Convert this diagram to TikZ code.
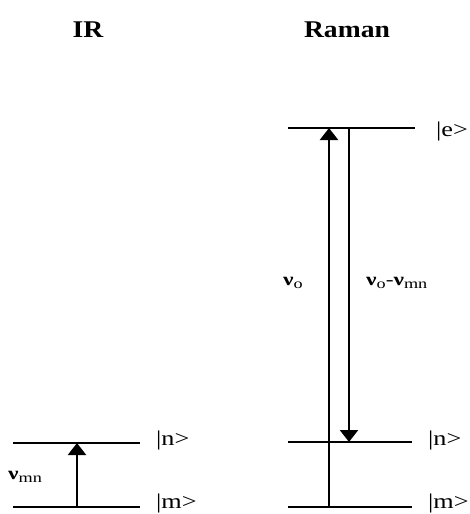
\documentclass[tikz,border=0pt]{standalone}
\usepackage{fontspec}
\setmainfont{Liberation Serif}
\usepackage{graphicx}
\usepackage{tikz}
\usetikzlibrary{arrows.meta, positioning}

% stretched text and frequency labels
\newcommand{\wtext}[2]{\scalebox{#1}[1]{#2}}
\newcommand{\nulab}[1]{\textbf{ν}\raisebox{-3pt}{\fontsize{14}{14}\selectfont #1}}

\begin{document}
\begin{tikzpicture}[x=1pt, y=-1pt,
  level/.style={line width=2.2pt},
  trans/.style={line width=2.2pt, -{Triangle[width=18pt, length=12pt]}},
  ket/.style={anchor=west, inner sep=0pt, font=\fontsize{21}{21}\selectfont},
  freq/.style={anchor=west, inner sep=0pt, font=\fontsize{18}{18}\selectfont},
  title/.style={font=\fontsize{24}{24}\selectfont\bfseries}
]
\useasboundingbox (0,0) rectangle (470,514);

% IR
\coordinate (irnl) at (13,443);  \coordinate (irnr) at (140,443);
\coordinate (irml) at (13,507);  \coordinate (irmr) at (140,507);
\draw[level] (irnl) -- (irnr);
\draw[level] (irml) -- (irmr);
\coordinate (irup0) at (77,507); \coordinate (irup1) at (77,443);
\draw[trans] (irup0) -- (irup1);
\node[ket] (irn) at (156,440) {\wtext{1.25}{|n>}};
\node[ket] (irm) at (156,503) {\wtext{1.25}{|m>}};
\node[freq] (irnu) at (8,477) {\wtext{1.3}{\nulab{mn}}};

% Raman
\coordinate (rael) at (288,128); \coordinate (raer) at (415,128);
\coordinate (ranl) at (288,442); \coordinate (ranr) at (412,442);
\coordinate (raml) at (288,507); \coordinate (ramr) at (412,507);
\draw[level] (rael) -- (raer);
\draw[level] (ranl) -- (ranr);
\draw[level] (raml) -- (ramr);
\coordinate (raup0) at (329,507); \coordinate (raup1) at (329,128);
\coordinate (radn0) at (349,128); \coordinate (radn1) at (349,442);
\draw[trans] (raup0) -- (raup1);
\draw[trans] (radn0) -- (radn1);
\node[ket] (rae) at (436,131) {\wtext{1.25}{|e>}};
\node[ket] (ran) at (428,440) {\wtext{1.25}{|n>}};
\node[ket] (ram) at (428,503) {\wtext{1.25}{|m>}};
\node[freq] (ranu) at (283,283) {\wtext{1.3}{\nulab{o}}};
\node[freq] (rascat) at (366,283) {\wtext{1.3}{\nulab{o}-\nulab{mn}}};

\node[title] at (88,30) {\wtext{1.15}{IR}};
\node[title] at (347,30) {\wtext{1.15}{Raman}};
\end{tikzpicture}
\end{document}
